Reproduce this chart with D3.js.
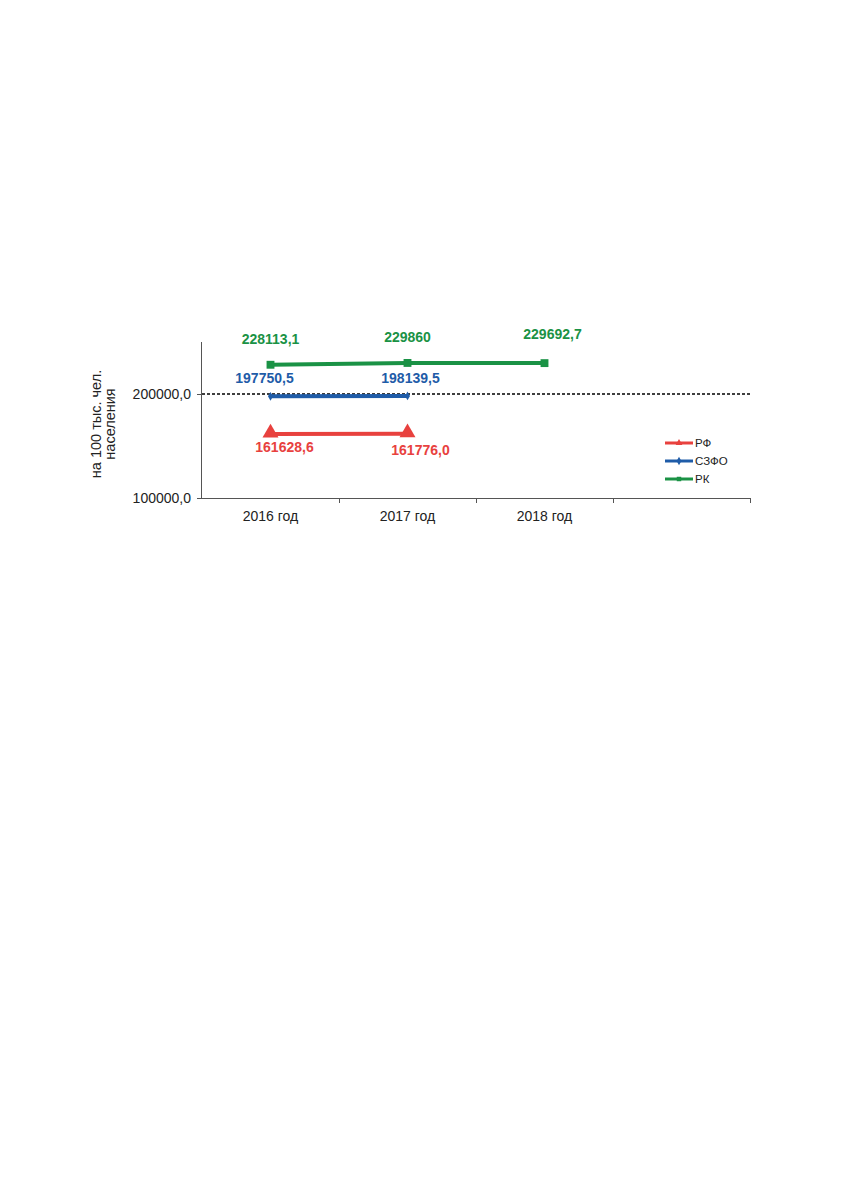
<!DOCTYPE html>
<html>
<head>
<meta charset="utf-8">
<script src="https://cdn.jsdelivr.net/npm/d3@7"></script>
<style>
  body { margin: 0; background: #fff; }
  svg { font-family: "Liberation Sans", Arial, sans-serif; }
</style>
</head>
<body>
<svg id="chart" width="856" height="1181"></svg>
<script>
// categories on the x axis (4th slot is empty in the original)
let years = ["2016 год", "2017 год", "2018 год", ""];
let yTicks = [100000, 200000];

let rfValues = [161628.6, 161776.0];
let szfoValues = [197750.5, 198139.5];
let rkValues = [228113.1, 229860, 229692.7];

let rfLabels = ["161628,6", "161776,0"];
let szfoLabels = ["197750,5", "198139,5"];
let rkLabels = ["228113,1", "229860", "229692,7"];

let seriesNames = ["РФ", "СЗФО", "РК"];

function drawChart() {
    let svg = d3.select("#chart");
    let left = 202, right = 750, top = 342, bottom = 498;

    let x = d3.scaleBand().domain(years.map((d, i) => i)).range([left, right]);
    let y = d3.scaleLinear().domain([100000, 250000]).range([bottom, top]);
    let cx = i => x(i) + x.bandwidth() / 2;

    // reference line at 200000
    svg.append("line")
        .attr("x1", left).attr("x2", right)
        .attr("y1", y(200000)).attr("y2", y(200000))
        .attr("stroke", "#000").attr("stroke-width", 1.3)
        .attr("stroke-dasharray", "3,2");

    // y axis
    let yAxis = d3.axisLeft(y).tickValues(yTicks).tickSize(5)
        .tickFormat(d => d3.format(".1f")(d).replace(".", ","));
    let gy = svg.append("g").attr("transform", "translate(" + left + ",0)").call(yAxis);
    gy.select(".domain").attr("stroke", "#555").attr("d", "M-0.5," + top + "V" + (bottom + 0.5));
    gy.selectAll(".tick line").attr("stroke", "#555");
    gy.selectAll("text").attr("font-size", 14).attr("fill", "#222")
        .attr("font-family", "Liberation Sans, Arial, sans-serif").attr("x", -11);

    // x axis
    let gx = svg.append("g").attr("transform", "translate(0," + bottom + ")")
        .call(d3.axisBottom(x).tickSize(0).tickFormat(i => years[i]));
    gx.select(".domain").attr("stroke", "#555").attr("d", "M" + left + ",0.5H" + right);
    gx.selectAll("text").attr("font-size", 14).attr("fill", "#222").attr("dy", "1.45em")
        .attr("font-family", "Liberation Sans, Arial, sans-serif");
    gx.selectAll(".sep").data(d3.range(1, years.length + 1)).enter().append("line")
        .attr("x1", i => Math.round(left + i * x.bandwidth()) + 0.5)
        .attr("x2", i => Math.round(left + i * x.bandwidth()) + 0.5)
        .attr("y1", 0).attr("y2", 5).attr("stroke", "#555");

    // y title
    svg.append("text")
        .attr("transform", "translate(101," + ((top + bottom) / 2 + 4) + ") rotate(-90)")
        .attr("text-anchor", "middle").attr("font-size", 14.5).attr("fill", "#222")
        .selectAll("tspan").data(["на 100 тыс. чел.", "населения"]).enter().append("tspan")
        .attr("x", 0).attr("dy", (d, i) => i === 0 ? 0 : "0.95em").text(d => d);

    let line = d3.line().x((d, i) => cx(i)).y(d => y(d));

    let series = [
        {name: "РФ", values: rfValues, labels: rfLabels, color: "#e8413e", marker: "triangle",
            lx: [cx(0) + 14, cx(1) + 13], ly: [18, 21]},
        {name: "СЗФО", values: szfoValues, labels: szfoLabels, color: "#1f5ca8", marker: "diamond",
            lx: [cx(0) - 6, cx(1) + 3], ly: [-13, -13]},
        {name: "РК", values: rkValues, labels: rkLabels, color: "#1a9245", marker: "square",
            lx: [cx(0) + 0, cx(1) + 0, cx(2) + 8], ly: [-21, -21, -24]}
    ];

    let markerPath = {
        triangle: d3.symbol().type(d3.symbolTriangle).size(110),
        diamond: d3.symbol().type(d3.symbolDiamond).size(22),
        square: d3.symbol().type(d3.symbolSquare).size(62)
    };

    series.forEach(function (s) {
        svg.append("path").datum(s.values)
            .attr("d", line).attr("fill", "none")
            .attr("stroke", s.color).attr("stroke-width", 4);
        svg.selectAll(null).data(s.values).enter().append("path")
            .attr("d", markerPath[s.marker])
            .attr("transform", (d, i) => "translate(" + cx(i) + "," + (y(d) + (s.marker === "triangle" ? -1 : 0)) + ")")
            .attr("fill", s.color);
        svg.selectAll(null).data(s.values).enter().append("text")
            .attr("x", (d, i) => s.lx[i])
            .attr("y", (d, i) => y(d) + s.ly[i])
            .attr("text-anchor", "middle").attr("font-size", 14).attr("font-weight", "bold")
            .attr("fill", s.color)
            .text((d, i) => s.labels[i]);
    });

    // legend
    let legend = svg.append("g").attr("transform", "translate(665,443)");
    series.forEach(function (s, i) {
        let g = legend.append("g").attr("transform", "translate(0," + (i * 18) + ")");
        g.append("line").attr("x1", 0).attr("x2", 28).attr("y1", 0).attr("y2", 0)
            .attr("stroke", s.color).attr("stroke-width", 3);
        g.append("path")
            .attr("d", d3.symbol().type(s.marker === "triangle" ? d3.symbolTriangle :
                s.marker === "diamond" ? d3.symbolDiamond : d3.symbolSquare).size(20))
            .attr("transform", "translate(14,0)").attr("fill", s.color);
        g.append("text").attr("x", 30).attr("y", 4).attr("font-size", 11.5).attr("fill", "#222")
            .text(s.name);
    });
}

drawChart();
</script>
</body>
</html>
